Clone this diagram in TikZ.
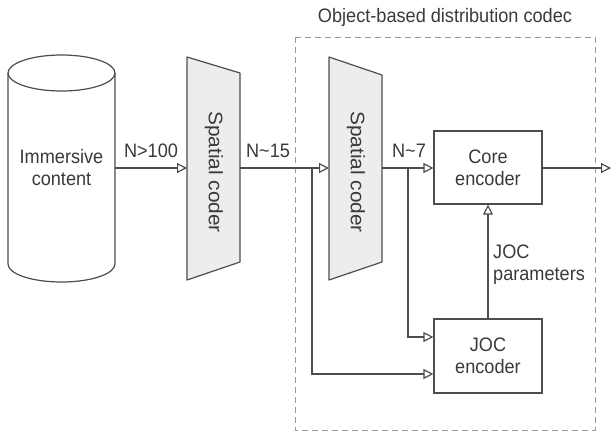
\documentclass[tikz,border=0pt]{standalone}
\usepackage{fontspec}
\setmainfont[FakeStretch=0.93]{Liberation Sans}
\newfontfamily\rotfont[FakeStretch=1.07]{Liberation Sans}
\usetikzlibrary{arrows.meta, positioning, calc}

\definecolor{linegray}{HTML}{4D4D4D}
\definecolor{textgray}{HTML}{3A3A3A}
\definecolor{codergray}{HTML}{EDEDED}
\definecolor{boxgray}{HTML}{9A9A9A}

\tikzset{
  lbl/.style={font=\fontsize{19.5}{22}\selectfont, text=textgray, align=center, inner sep=0pt},
  rotlbl/.style={lbl, rotate=-90, font=\rotfont\fontsize{19.5}{22}\selectfont},
  blockbox/.style={lbl, draw=linegray, line width=1.2pt, minimum width=108pt},
  sig/.style={draw=linegray, line width=1.2pt},
  arr/.style={sig, -{Triangle[open, length=10pt, width=10pt]}},
  coder/.style={draw=linegray, fill=codergray, line width=1.2pt, line join=round},
  codec/.style={draw=boxgray, line width=1pt, dash pattern=on 6pt off 4pt},
}

\begin{document}
\begin{tikzpicture}[x=1pt, y=-1pt]
        \useasboundingbox (0,0) rectangle (612,437);

        \draw[codec] (295,37) rectangle (595,430);
        \node[lbl] (title) at (445,17) {Object-based distribution codec};

        \draw[sig, fill=white] (8,73) -- (8,264) arc[start angle=180, end angle=0, x radius=53.5, y radius=18] -- (115,73);
        \draw[sig] (61.5,73) ellipse[x radius=53.5, y radius=18];
        \node[lbl, minimum width=107pt, minimum height=30pt] (imm) at (61.5,168) {Immersive\\content};

        \draw[coder] (187,57) -- (240,73) -- (240,262) -- (187,280) -- cycle;
        \node[rotlbl] (sc1) at (214,172) {Spatial coder};
        \coordinate (sc1in) at (187,168);
        \coordinate (sc1out) at (240,168);

        \draw[coder] (329,57) -- (382,75) -- (382,262) -- (329,280) -- cycle;
        \node[rotlbl] (sc2) at (356,172) {Spatial coder};
        \coordinate (sc2in) at (329,168);
        \coordinate (sc2out) at (382,168);

        \node[blockbox, minimum height=73pt] (core) at (488,167.5) {Core\\encoder};
        \node[blockbox, minimum height=74pt] (joc) at (488,356) {JOC\\encoder};

        \coordinate (br1) at (312,168);
        \coordinate (br2) at (408,168);
        \coordinate (out) at (611,168);

        \draw[arr] (imm.east) -- (sc1in);
        \draw[arr] (sc1out) -- (sc2in);
        \draw[arr] (sc2out) -- (core.west |- sc2out);
        \draw[arr] (core.east |- out) -- (out);
        \draw[arr] (br1) |- ($(joc.west)+(0,18)$);
        \draw[arr] (br2) |- ($(joc.west)+(0,-19)$);
        \draw[arr] (joc.north) -- (core.south);

        \node[lbl] (n100) at (151,151) {N>100};
        \node[lbl] (n15) at (268,151) {N\textasciitilde15};
        \node[lbl] (n7) at (409,151) {N\textasciitilde7};
        \node[lbl, anchor=west, align=left] (jocpar) at (493,265) {JOC\\parameters};

      \end{tikzpicture}
\end{document}
